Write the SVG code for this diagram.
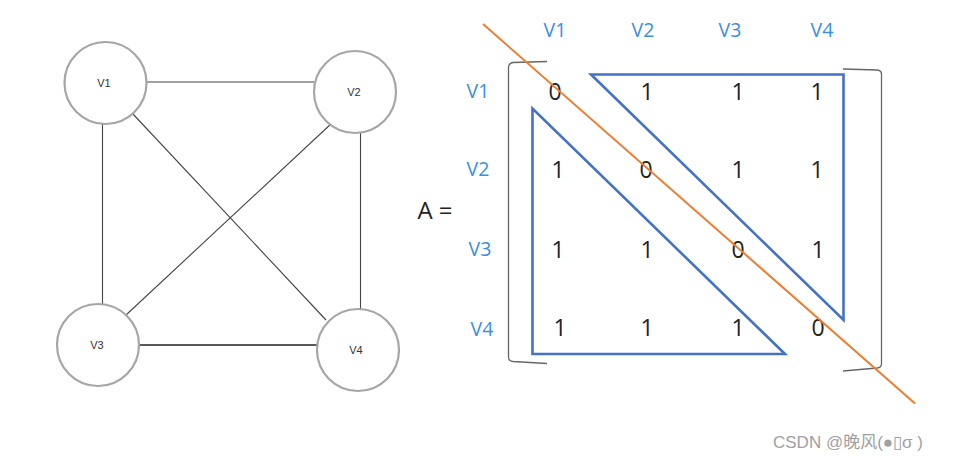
<svg xmlns="http://www.w3.org/2000/svg" width="956" height="462" viewBox="0 0 956 462">
<style>
.node circle{fill:#fff;stroke:#a6a6a6;stroke-width:2.2}
.node text{font-family:"Liberation Sans",Arial,sans-serif;font-size:11px;fill:#333;text-anchor:middle}
.edge{stroke:#444;stroke-width:1.1;fill:none}
.hdr{font-family:"Open Sans","DejaVu Sans",sans-serif;font-size:19.5px;fill:#3b8fde;text-anchor:middle}
.num{font-family:"Open Sans","DejaVu Sans",sans-serif;font-size:23px;fill:#222;text-anchor:middle}
.tri{fill:none;stroke:#4472c4;stroke-width:2.6;stroke-linejoin:miter}
.brk{fill:none;stroke:#666;stroke-width:1.3}
</style>
<rect width="956" height="462" fill="#fff"/>
<g id="connectors">
<line class="edge" x1="147" y1="82" x2="314" y2="82"/>
<line class="edge" x1="102.5" y1="124" x2="102.5" y2="305"/>
<line class="edge" x1="360.5" y1="132" x2="360.5" y2="310"/>
<line class="edge" x1="132" y1="113" x2="326" y2="320"/>
<line class="edge" x1="332" y1="123" x2="126" y2="315"/>
<line class="edge" x1="138" y1="345" x2="317" y2="345" style="stroke:#222;stroke-width:1.6"/>
</g>
<g id="v1" class="node"><circle cx="105.5" cy="83" r="41"/><text x="104" y="87">V1</text></g>
<g id="v2" class="node"><circle cx="355" cy="92" r="41"/><text x="354" y="96">V2</text></g>
<g id="v3" class="node"><circle cx="98" cy="345" r="41"/><text x="97" y="349">V3</text></g>
<g id="v4" class="node"><circle cx="358" cy="350" r="41"/><text x="356" y="354">V4</text></g>
<g id="matrix">
<text x="435" y="219" style="font-family:'Open Sans','DejaVu Sans',sans-serif;font-size:24px;fill:#222;text-anchor:middle">A =</text>
<g id="col-headers">
<text class="hdr" x="555" y="37">V1</text>
<text class="hdr" x="643" y="37">V2</text>
<text class="hdr" x="730" y="37">V3</text>
<text class="hdr" x="822" y="37">V4</text>
</g>
<g id="row-headers">
<text class="hdr" x="478" y="98">V1</text>
<text class="hdr" x="478" y="176">V2</text>
<text class="hdr" x="480" y="256">V3</text>
<text class="hdr" x="482" y="336">V4</text>
</g>
<path class="brk" d="M547,61.5 L513,62.5 Q508.5,63.5 508.5,67 L508.5,357 Q508.5,361 513,361.5 L547,363.5"/>
<path class="brk" d="M843,69 L877,70 Q881.5,70.5 881.5,74 L881.5,364 Q881.5,367.5 877,368 L843,371"/>
<polygon class="tri" points="591,74.5 843.5,74.5 843.5,320"/>
<polygon class="tri" points="532.5,108.5 532.5,354 785,354"/>
<g id="cells">
<text class="num" x="555" y="100">0</text>
<text class="num" x="647" y="100">1</text>
<text class="num" x="738" y="100">1</text>
<text class="num" x="817" y="100">1</text>
<text class="num" x="558" y="178">1</text>
<text class="num" x="646" y="178">0</text>
<text class="num" x="738" y="178">1</text>
<text class="num" x="817" y="178">1</text>
<text class="num" x="558" y="258">1</text>
<text class="num" x="647" y="258">1</text>
<text class="num" x="738" y="258">0</text>
<text class="num" x="818" y="258">1</text>
<text class="num" x="560" y="336">1</text>
<text class="num" x="647" y="336">1</text>
<text class="num" x="738" y="336">1</text>
<text class="num" x="818" y="336">0</text>
</g>
<line x1="483" y1="24" x2="915" y2="403.5" stroke="#ed7d31" stroke-width="2"/>
</g>
<text x="773" y="448" style="font-family:'Liberation Sans','Noto Sans CJK SC',sans-serif;font-size:17px;fill:#a0a0a0">CSDN @晚风(●▯σ )</text>
</svg>
